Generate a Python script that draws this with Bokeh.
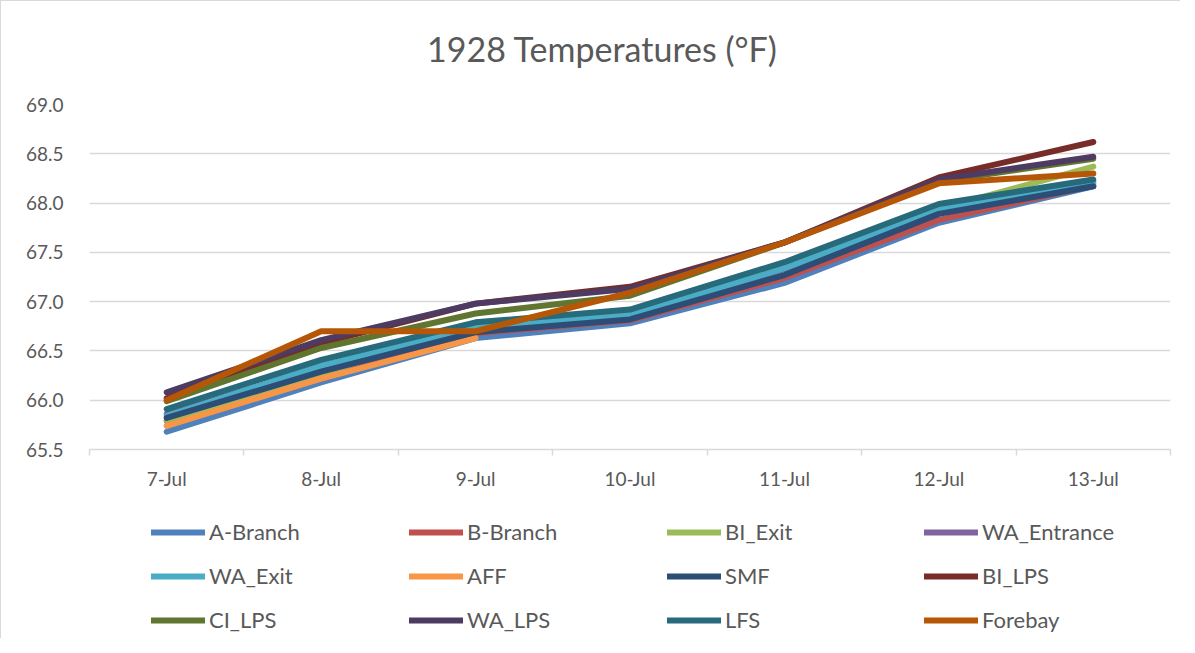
import numpy as np
from bokeh.plotting import figure
from bokeh.layouts import column
from bokeh.models import (FixedTicker, SingleIntervalTicker, NumeralTickFormatter,
                          Legend, LegendItem, Range1d, Label)
from bokeh.embed import file_html
from bokeh.resources import INLINE

nan = float("nan")

dates = ["7-Jul", "8-Jul", "9-Jul", "10-Jul", "11-Jul", "12-Jul", "13-Jul"]

a_branch    = [65.68, 66.18, 66.63, 66.78, 67.19, 67.80, 68.17]
b_branch    = [65.79, 66.24, 66.68, 66.81, 67.24, 67.83, 68.18]
bi_exit     = [65.80, 66.27, 66.76, 66.88, 67.36, 67.94, 68.37]
wa_entrance = [65.86, 66.33, 66.72, 66.86, 67.33, 67.92, 68.22]
wa_exit     = [65.84, 66.35, 66.74, 66.86, 67.34, 67.93, 68.20]
aff         = [65.74, 66.22, 66.63, nan, nan, nan, nan]
smf         = [65.82, 66.29, 66.69, 66.82, 67.27, 67.89, 68.17]
bi_lps      = [66.02, 66.58, 66.98, 67.15, 67.60, 68.26, 68.62]
ci_lps      = [65.99, 66.53, 66.88, 67.06, 67.60, 68.22, 68.45]
wa_lps      = [66.08, 66.61, 66.98, 67.13, 67.60, 68.24, 68.47]
lfs         = [65.91, 66.41, 66.79, 66.92, 67.40, 67.99, 68.24]
forebay     = [66.00, 66.70, 66.70, 67.09, 67.60, 68.20, 68.30]

names = ["A-Branch", "B-Branch", "BI_Exit", "WA_Entrance", "WA_Exit", "AFF",
         "SMF", "BI_LPS", "CI_LPS", "WA_LPS", "LFS", "Forebay"]
series = [a_branch, b_branch, bi_exit, wa_entrance, wa_exit, aff,
          smf, bi_lps, ci_lps, wa_lps, lfs, forebay]
colors = ["#4F81BD", "#C0504D", "#9BBB59", "#8064A2", "#4BACC6", "#F79646",
          "#2C4D75", "#772C2A", "#5F7530", "#4D3B62", "#276A7C", "#B65708"]

FONT = "Lato"
TXT = "#595959"
GRID = "#D9D9D9"
W = 1179


def blank(h):
    f = figure(width=W, height=h, output_backend="svg", toolbar_location=None,
               x_range=Range1d(0, 1), y_range=Range1d(0, 1),
               x_axis_location=None, y_axis_location=None,
               min_border=0, min_border_left=0, min_border_right=0,
               min_border_top=0, min_border_bottom=0)
    f.outline_line_color = None
    f.grid.visible = False
    return f


# title panel
th = 80
t = blank(th)
t.add_layout(Label(x=513, y=th - 47, x_units="screen", y_units="screen",
                   text="1928 Temperatures (°F)", text_align="center",
                   text_baseline="middle", text_font=FONT, text_font_size="34px",
                   text_color=TXT))

# main plot
ph = 420
p = figure(width=W, height=ph, output_backend="svg", toolbar_location=None,
           x_range=Range1d(-0.5, len(dates) - 0.5), y_range=Range1d(65.5, 69.0),
           min_border_left=88, min_border_right=10, min_border_top=103 - th,
           min_border_bottom=th + ph - 448)
p.outline_line_color = None

xs = list(range(len(dates)))
renderers = []
for vals, c in zip(series, colors):
    r = p.line(xs, vals, line_width=6, line_color=c, line_cap="round", line_join="round")
    renderers.append(r)

# x axis
p.xaxis.ticker = FixedTicker(ticks=xs, minor_ticks=[i - 0.5 for i in range(len(dates) + 1)])
p.xaxis.major_label_overrides = {i: d for i, d in enumerate(dates)}
p.xaxis.major_tick_out = 0
p.xaxis.major_tick_in = 0
p.xaxis.minor_tick_out = 6
p.xaxis.minor_tick_in = 0
p.xaxis.minor_tick_line_color = GRID
p.xaxis.minor_tick_line_width = 1.5
p.xaxis.axis_line_color = GRID
p.xaxis.axis_line_width = 1.5
p.xaxis.major_label_standoff = 11
p.xaxis.major_label_text_font = FONT
p.xaxis.major_label_text_font_size = "19px"
p.xaxis.major_label_text_color = TXT
p.xgrid.visible = False

# y axis
p.yaxis.ticker = SingleIntervalTicker(interval=0.5, num_minor_ticks=0)
p.yaxis.formatter = NumeralTickFormatter(format="0.0")
p.yaxis.axis_line_color = None
p.yaxis.major_tick_line_color = None
p.yaxis.minor_tick_line_color = None
p.yaxis.major_label_standoff = 20
p.yaxis.major_label_text_font = FONT
p.yaxis.major_label_text_font_size = "19px"
p.yaxis.major_label_text_color = TXT
p.ygrid.grid_line_color = GRID
p.ygrid.grid_line_width = 1.5

# legend panel (frame aligned with main plot)
lh = 637 - th - ph
q = blank(lh)
dummies = []
for c in colors:
    d = q.line([nan, nan], [nan, nan], line_width=6, line_color=c, line_cap="round")
    dummies.append(d)

col_x = [62, 320, 578, 835]
for j in range(4):
    items = [LegendItem(label=names[k], renderers=[dummies[k]]) for k in (j, j + 4, j + 8)]
    leg = Legend(items=items, location=(col_x[j], 5), orientation="vertical",
                 border_line_color=None, background_fill_alpha=0, padding=0, margin=0,
                 spacing=17, glyph_width=54, glyph_height=22, label_height=22,
                 label_standoff=4, label_text_font=FONT, label_text_font_size="22px",
                 label_text_color=TXT, label_text_baseline="middle")
    q.add_layout(leg)

layout = column(t, p, q, spacing=0,
                styles={"border-left": "1px solid #D9D9D9", "border-top": "1px solid #D9D9D9"})

open("out.html", "w").write(file_html(layout, INLINE))
